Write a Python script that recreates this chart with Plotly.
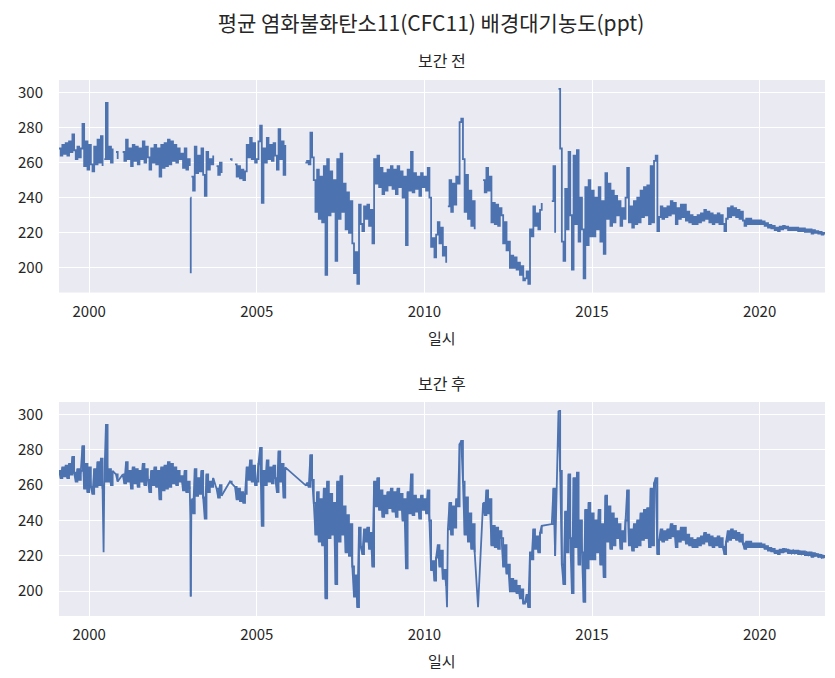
import plotly.graph_objects as go

STEP = 0.05  # sampling interval in years

# values per year (sampled every 0.05 year); None = missing
v1999 = [268, 264, 270, 265, 271, 264, 272, 266, 276, 267, 262, 269, 263, 268, 282, 258, 272, 256]
v2000 = [270, 259, 255, 269, 259, 273, 260, 275, 258, 262, 294, 262, 269, 260, 268, None, 266, 262, None, None]
v2001 = [266, 261, 273, 262, 268, 258, 270, 261, 269, 259, 268, 262, 272, 260, 269, 263, 256, 268, 260, 270]
v2002 = [259, 268, 252, 270, 257, 271, 258, 273, 259, 272, 261, 270, 260, 268, 262, 265, 257, 268, 256, 262]
v2003 = [258, 252, 244, 269, 254, 264, 255, 268, 253, 241, 266, 256, 262, 259, 264, None, 258, 253, 260, 254]
v2004 = [None, None, None, None, 262, 261, None, 259, 252, 258, 251, 256, 250, 255, 270, 263, 274, 262, 271, 260]
v2005 = [262, 272, 281, 237, 268, 260, 274, 262, 270, 261, 271, 264, 256, 279, 262, 272, 253, 270, None, None]
v2006 = [None, None, None, None, None, None, None, None, None, 260, 261, 259, 277, 263, 250, 232, 256, 228, 252, 226]
v2007 = [258, 196, 262, 230, 255, 232, 250, 204, 262, 228, 265, 232, 248, 222, 243, 220, 238, 214, 197, 209]
v2008 = [191, 236, 225, 221, 235, 228, 236, 224, 233, 214, 262, 248, 264, 246, 257, 242, 254, 244, 256, 247]
v2009 = [258, 245, 256, 242, 258, 246, 255, 240, 252, 213, 256, 244, 266, 243, 254, 245, 252, 241, 254, 246]
v2010 = [252, 244, 257, 240, 212, 217, 206, 219, 226, 214, 223, 207, 212, 203, 235, 250, 232, 248, 236, 252]
v2011 = [248, 283, 285, 262, 232, 253, 228, 244, 224, 238, 222, None, 191, None, None, 250, 243, 257, 244, 252]
v2012 = [226, 237, 225, 236, 224, 234, 230, 214, 226, 210, 215, 200, 207, 200, 206, 199, 203, 196, 201, 193]
v2013 = [194, 198, 191, 222, 218, 235, 224, 231, 222, 233, 237, None, None, None, None, None, 238, 258, 220, None]
v2014 = [302, 268, 215, 204, 245, 222, 266, 230, 199, 264, 225, 267, 215, 240, 222, 194, 246, 213, 250, 218]
v2015 = [244, 218, 240, 222, 246, 215, 238, 208, 254, 228, 248, 224, 244, 226, 241, 230, 238, 224, 234, 228]
v2016 = [240, 257, 226, 235, 223, 238, 225, 240, 226, 244, 229, 246, 230, 247, 225, 258, 226, 261, 264, 221]
v2017 = [229, 235, 228, 234, 229, 235, 230, 238, 231, 237, 225, 234, 228, 236, 229, 236, 227, 232, 226, 230]
v2018 = [225, 229, 225, 230, 226, 231, 227, 233, 228, 232, 226, 231, 225, 230, 226, 231, 225, 230, 225, 221]
v2019 = [228, 234, 229, 235, 230, 234, 229, 233, 228, 232, 227, 224, 228, 225, 228, 225, 227, 225, 227, 225]
v2020 = [227, 225, 226.5, 224, 225.5, 223, 224.5, 222.5, 224, 221.5, 223, 221, 223.5, 222, 224, 222.5, 223.5, 221.5, 223, 221.5]
v2021 = [223, 221.5, 223, 221, 222.5, 221, 222.5, 220.5, 222, 220.5, 222, 219.5, 221.5, 220, 221, 219.5, 220.5, 219, 220, 219]

YEARS = list(range(1999, 2022))
YEAR_START = [0.10] + [0.0] * 22
YEAR_VALUES = [v1999, v2000, v2001, v2002, v2003, v2004, v2005, v2006, v2007, v2008, v2009,
               v2010, v2011, v2012, v2013, v2014, v2015, v2016, v2017, v2018, v2019, v2020, v2021]

# short isolated records between missing values
SPIKE_YEARS = [[2000.43], [2003.02, 2003.03], [2010.675]]
SPIKE_VALUES = [[222], [240, 197], [191]]

X_TICKS = [2000, 2005, 2010, 2015, 2020]
Y_TICKS = [200, 220, 240, 260, 280, 300]

pts = []
for yr, off, vals in zip(YEARS, YEAR_START, YEAR_VALUES):
    for i, v in enumerate(vals):
        pts.append((round(yr + off + i * STEP, 4), 1, v))
for xs, vs in zip(SPIKE_YEARS, SPIKE_VALUES):
    pts.append((xs[0], 0, None))
    for xx, vv in zip(xs, vs):
        pts.append((xx, 1, vv))
    pts.append((xs[-1], 2, None))
pts.sort(key=lambda p: (p[0], p[1]))
xv = [p[0] for p in pts]
yv = [p[2] for p in pts]

COLOR = "#4C72B0"
FONT = "Noto Sans CJK KR"
TXT = "#262626"

fig = go.Figure()
# before interpolation: raw records, gaps left open
fig.add_trace(go.Scatter(x=xv, y=yv, mode="lines", connectgaps=False,
                         line=dict(color=COLOR, width=1.8, shape="hv", simplify=False),
                         xaxis="x", yaxis="y", showlegend=False, hoverinfo="skip"))
# after interpolation: gaps bridged linearly
fig.add_trace(go.Scatter(x=xv, y=yv, mode="lines", connectgaps=True,
                         line=dict(color=COLOR, width=1.8, simplify=False),
                         xaxis="x2", yaxis="y2", showlegend=False, hoverinfo="skip"))
fig.add_trace(go.Scatter(x=xv, y=yv, mode="lines", connectgaps=False,
                         line=dict(color=COLOR, width=1.8, shape="hv", simplify=False),
                         xaxis="x2", yaxis="y2", showlegend=False, hoverinfo="skip"))

ax_common = dict(showgrid=True, gridcolor="white", gridwidth=1.3, zeroline=False,
                 showline=False, ticks="", tickfont=dict(family=FONT, size=15, color=TXT))
xax = dict(ax_common, range=[1999.1, 2021.95], tickvals=X_TICKS, ticktext=[str(t) for t in X_TICKS],
           ticklabelstandoff=8)
yax = dict(ax_common, range=[186.0, 307.0], tickvals=Y_TICKS, ticklabelstandoff=15)

fig.update_layout(
    width=827, height=670,
    margin=dict(l=44, r=10, t=72, b=62),
    paper_bgcolor="white", plot_bgcolor="#EAEAF2",
    xaxis=dict(xax, domain=[0, 1], anchor="y"),
    yaxis=dict(yax, domain=[0.6035, 1.0], anchor="x"),
    xaxis2=dict(xax, domain=[0, 1], anchor="y2"),
    yaxis2=dict(yax, domain=[0.0, 0.3993], anchor="x2"),
    font=dict(family=FONT, color=TXT),
    title=dict(text="평균 염화불화탄소11(CFC11) 배경대기농도(ppt)",
               x=0.4856, xref="paper", xanchor="center",
               y=(670 - 16) / 670, yref="container", yanchor="middle",
               font=dict(family=FONT, size=21, color=TXT)),
)

ann = [
    dict(text="보간 전", x=0.5, y=1.037, size=16),
    dict(text="일시", x=0.5, y=0.5205, size=15),
    dict(text="보간 후", x=0.5, y=0.4347, size=16),
    dict(text="일시", x=0.5, y=-0.0821, size=15),
]
for a in ann:
    fig.add_annotation(text=a["text"], x=a["x"], y=a["y"], xref="paper", yref="paper",
                       xanchor="center", yanchor="middle", showarrow=False,
                       font=dict(family=FONT, size=a["size"], color=TXT))

fig.write_html("out.html")
